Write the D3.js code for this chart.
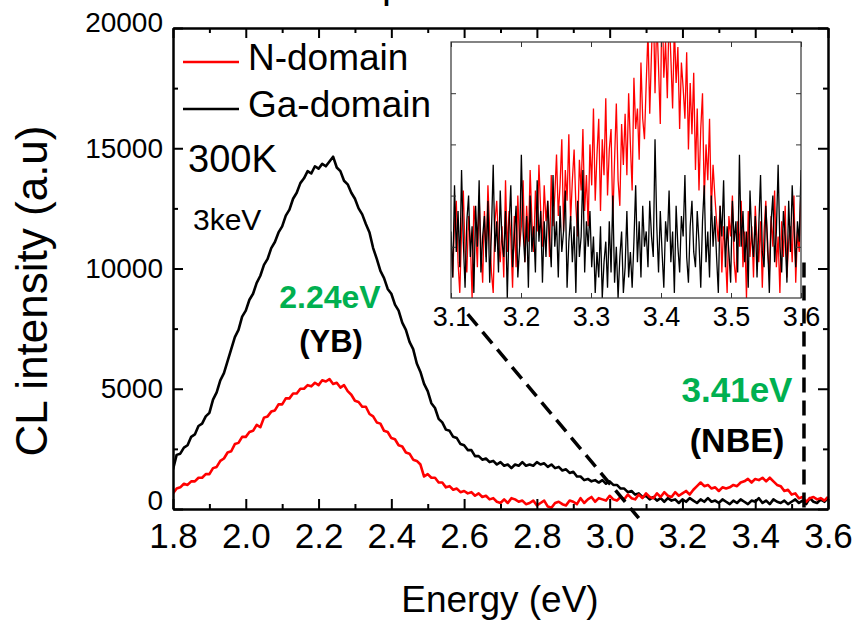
<!DOCTYPE html>
<html>
<head>
<meta charset="utf-8">
<script src="https://cdn.jsdelivr.net/npm/d3@7"></script>
<style>
  body { margin: 0; background: #fff; }
  text { font-family: "Liberation Sans", Arial, sans-serif; }
  .axis path, .axis line { stroke: #000; stroke-width: 2; }
  .inset-axis path { display: none; }
  .inset-axis line { stroke: #333; stroke-width: 1; }
</style>
</head>
<body>
<div id="chart"></div>
<script>
// main spectra, 1.80 .. 3.60 eV every 0.01 eV
var energyStart = 1.8
var energyStep = 0.01

var gaDomain = [
  1650, 2250, 2300, 2550, 2650, 3000, 3100, 3450, 3550, 3850,
  4000, 4550, 4850, 5350, 5650, 6150, 6650, 7150, 7450, 8000,
  8250, 8700, 8950, 9400, 9700, 10150, 10400, 10850, 11100, 11500,
  11750, 12200, 12450, 12900, 13150, 13550, 13750, 14050, 13950, 14250,
  14150, 14350, 14250, 14450, 14650, 14200, 14050, 13650, 13500, 13150,
  12900, 12500, 12250, 11850, 11500, 10850, 10400, 9900, 9600, 9150,
  8950, 8500, 8250, 7750, 7450, 6950, 6650, 6050, 5700, 5200,
  4900, 4400, 4200, 3750, 3600, 3300, 3250, 3000, 2950, 2700,
  2650, 2450, 2450, 2200, 2200, 2050, 2100, 1950, 2000, 1850,
  1950, 1800, 1850, 1700, 1850, 1800, 1950, 1800, 1850, 1800,
  1950, 1850, 1900, 1750, 1850, 1700, 1750, 1600, 1650, 1500,
  1550, 1350, 1350, 1200, 1250, 1150, 1200, 1100, 1200, 1050,
  1150, 1000, 1000, 850, 850, 700, 750, 600, 650, 500,
  550, 400, 500, 350, 450, 300, 450, 350, 400, 250,
  400, 300, 450, 350, 250, 400, 300, 450, 300, 350,
  250, 400, 300, 200, 350, 250, 400, 300, 200, 350,
  300, 450, 250, 350, 200, 400, 300, 250, 350, 200,
  300, 400, 250, 350, 200, 450, 300, 250, 400, 300,
  450
]

var nDomain = [
  650, 850, 900, 1050, 1000, 1150, 1150, 1300, 1300, 1450,
  1450, 1700, 1750, 2000, 2100, 2350, 2400, 2700, 2750, 3000,
  3000, 3200, 3250, 3500, 3400, 3800, 3850, 4050, 4100, 4350,
  4350, 4600, 4600, 4800, 4800, 5000, 5000, 5150, 5100, 5250,
  5150, 5350, 5300, 5400, 5200, 5250, 5050, 5150, 4900, 4750,
  4500, 4450, 4250, 4250, 3950, 3850, 3600, 3550, 3250, 3200,
  2950, 2900, 2650, 2600, 2350, 2300, 2050, 2000, 1850, 1350,
  1450, 1300, 1300, 1100, 1100, 900, 950, 800, 850, 700,
  750, 650, 700, 550, 650, 500, 550, 400, 450, 300,
  250, 400, 250, 450, 400, 300, 350, 200, 250, 350,
  150, 250, 350, 100, 50, 250, 300, 200, 150, 350,
  300, 200, 450, 250, 400, 500, 300, 450, 400, 350,
  550, 400, 350, 500, 400, 600, 450, 400, 600, 450,
  650, 500, 450, 650, 500, 700, 550, 500, 700, 550,
  650, 750, 600, 800, 950, 1100, 950, 1000, 850, 900,
  750, 900, 850, 900, 1000, 950, 1100, 1150, 1250, 1100,
  1250, 1200, 1300, 1150, 1300, 1150, 1000, 950, 750, 800,
  600, 650, 450, 500, 300, 450, 500, 400, 450, 350,
  500
]

// inset spectra (arb. units), evenly spread over 3.1 .. 3.6 eV
var insetRange = [3.1, 3.6]
var insetN = [
  24, 8, 30, 38, 14, 2, 26, 42, 18, 10, 32, 22, 0, 36, 28, 12, 40, 20, 6, 34,
  16, 44, 26, 10, 2, 30, 38, 22, 14, 28, 8, 46, 18, 34, 24, 4, 32, 12, 40, 20,
  28, 46, 14, 36, 22, 50, 30, 18, 42, 26, 52, 34, 20, 44, 30, 38, 16, 48, 28, 40,
  56, 32, 44, 62, 26, 50, 38, 64, 30, 46, 58, 36, 24, 54, 42, 66, 34, 48, 28, 60,
  44, 74, 38, 56, 70, 34, 62, 48, 78, 40, 58, 66, 30, 54, 76, 46, 36, 68, 52, 72,
  48, 80, 60, 42, 86, 66, 74, 54, 92, 70, 62, 84,
  104, 72, 96, 118, 80, 110, 90, 68, 120, 86, 100, 78, 112, 94, 74, 106, 84, 98, 66, 92,
  82, 70, 96, 58, 84, 64, 88, 50, 74, 42, 66, 80, 38, 60, 46, 70, 34, 52, 40, 30,
  22, 36, 10, 28, 18, 2, 32, 24, 40, 14, 6, 30, 20, 38, 12, 26, 0, 34, 16, 28,
  8, 36, 22, 14, 30, 4, 26, 38, 18, 10, 32, 20, 42, 12, 24, 2, 30, 16, 36, 8,
  22, 28, 14, 40, 6, 26, 18, 44
]
var insetGa = [
  26, 8, 44, 18, 34, 12, 50, 22, 4, 30, 40, 16, 28, 2, 36, 20, 46, 10, 24, 32,
  14, 38, 6, 26, 52, 18, 30, 10, 42, 22, 16, 34, 0, 28, 44, 12, 24, 36, 8, 20,
  56, 26, 14, 32, 4, 40, 18, 28, 10, 46, 22, 34, 6, 30, 16, 38, 24, 12, 48, 20,
  30, 8, 36, 18, 26, 42, 4, 22, 32, 14, 28, 2, 38, 16, 24, 50, 10, 30, 20, 34,
  12, 24, 2, 18, 8, 28, 0, 14, 22, 4, 30, 10, 40, 6, 20, 0, 16, 26, 2, 12, 34, 8, 18, 4,
  22, 44, 14, 30, 8, 36, 20, 26, 12, 38, 24, 16, 62, 28, 10, 34, 18, 4, 30, 22,
  42, 14, 26, 2, 36, 20, 10, 32, 24, 48, 16, 6, 28, 38, 18, 12, 34, 22, 4, 30,
  44, 14, 26, 8, 40, 20, 32, 16, 2, 36, 24, 46, 12, 28, 18, 6, 38, 22, 30, 10,
  56, 20, 34, 14, 26, 4, 42, 24, 16, 32, 8, 28, 48, 18, 12, 36, 22, 2, 30, 40,
  14, 26, 52, 20, 10, 34, 24, 6, 38, 18, 44, 28, 12, 30, 22, 50
]

var xTicks = [1.8, 2.0, 2.2, 2.4, 2.6, 2.8, 3.0, 3.2, 3.4, 3.6]
var xMinor = [1.9, 2.1, 2.3, 2.5, 2.7, 2.9, 3.1, 3.3, 3.5]
var yTicks = [0, 5000, 10000, 15000, 20000]
var yMinor = [2500, 7500, 12500, 17500]
var insetXTicks = [3.1, 3.2, 3.3, 3.4, 3.5, 3.6]
var insetYTicks = [20, 40, 60, 80]

// dashed guide lines, in data units of the main plot
var guides = [
  {x1: 2.61, y1: 8100, x2: 3.08, y2: -380},
  {x1: 3.534, y1: 10250, x2: 3.534, y2: 0}
]

var outerW = 857
var outerH = 620
var margin = {top: 28, right: 29, bottom: 111, left: 173}
var width = outerW - margin.left - margin.right
var height = outerH - margin.top - margin.bottom

var svg = d3.select("#chart").append("svg")
  .attr("width", outerW)
  .attr("height", outerH)

// cut-off title at the very top
svg.append("text")
  .attr("x", 382)
  .attr("y", -2)
  .attr("font-size", 40)
  .text("p")

var g = svg.append("g")
  .attr("transform", "translate(" + margin.left + "," + margin.top + ")")

var x = d3.scaleLinear().domain([1.8, 3.6]).range([0, width])
var y = d3.scaleLinear().domain([0, 20000]).range([height, 0])

function mainPoints(values) {
  return values.map(function(v, i) { return [energyStart + i * energyStep, v] })
}

g.append("clipPath").attr("id", "plotclip")
  .append("rect").attr("width", width).attr("height", height)

var line = d3.line()
  .x(function(d) { return x(d[0]) })
  .y(function(d) { return y(d[1]) })

g.append("path")
  .datum(mainPoints(gaDomain))
  .attr("clip-path", "url(#plotclip)")
  .attr("fill", "none")
  .attr("stroke", "#000")
  .attr("stroke-width", 2.6)
  .attr("stroke-linejoin", "round")
  .attr("d", line)

g.append("path")
  .datum(mainPoints(nDomain))
  .attr("clip-path", "url(#plotclip)")
  .attr("fill", "none")
  .attr("stroke", "#ff0000")
  .attr("stroke-width", 2.6)
  .attr("stroke-linejoin", "round")
  .attr("d", line)

// axes, ticks inward on all four sides
var fmtX = d3.format(".1f")

g.append("g").attr("class", "axis")
  .attr("transform", "translate(0," + height + ")")
  .call(d3.axisBottom(x).tickValues(xTicks).tickSize(-10).tickSizeOuter(0).tickPadding(14).tickFormat(fmtX))
  .selectAll("text").attr("font-size", 35).attr("font-family", "Liberation Sans, Arial, sans-serif")

g.append("g").attr("class", "axis")
  .attr("transform", "translate(0," + height + ")")
  .call(d3.axisBottom(x).tickValues(xMinor).tickSize(-5).tickSizeOuter(0).tickFormat(""))

g.append("g").attr("class", "axis")
  .call(d3.axisTop(x).tickValues(xTicks).tickSize(-10).tickSizeOuter(0).tickFormat(""))
g.append("g").attr("class", "axis")
  .call(d3.axisTop(x).tickValues(xMinor).tickSize(-5).tickSizeOuter(0).tickFormat(""))

g.append("g").attr("class", "axis")
  .call(d3.axisLeft(y).tickValues(yTicks).tickSize(-10).tickSizeOuter(0).tickPadding(10).tickFormat(d3.format("d")))
  .selectAll("text")
  .attr("font-size", 28)
  .attr("font-family", "Liberation Sans, Arial, sans-serif")
  .attr("y", function(d) { return d == 0 ? -8 : (d == 20000 ? -5 : 0) })
g.append("g").attr("class", "axis")
  .call(d3.axisLeft(y).tickValues(yMinor).tickSize(-5).tickSizeOuter(0).tickFormat(""))

g.append("g").attr("class", "axis")
  .attr("transform", "translate(" + width + ",0)")
  .call(d3.axisRight(y).tickValues(yTicks).tickSize(-10).tickSizeOuter(0).tickFormat(""))
g.append("g").attr("class", "axis")
  .attr("transform", "translate(" + width + ",0)")
  .call(d3.axisRight(y).tickValues(yMinor).tickSize(-5).tickSizeOuter(0).tickFormat(""))

// axis titles
svg.append("text")
  .attr("x", 500)
  .attr("y", 612)
  .attr("text-anchor", "middle")
  .attr("font-size", 37)
  .text("Energy (eV)")

svg.append("text")
  .attr("transform", "translate(47,291) rotate(-90)")
  .attr("text-anchor", "middle")
  .attr("font-size", 44)
  .text("CL intensity (a.u)")

// legend
var legend = [
  {name: "N-domain", color: "#ff0000"},
  {name: "Ga-domain", color: "#000"}
]
var leg = svg.selectAll(".leg")
  .data(legend)
  .enter().append("g")
  .attr("class", "leg")
  .attr("transform", function(d, i) { return "translate(183," + (62 + i * 47) + ")" })
leg.append("line")
  .attr("x1", 0).attr("x2", 56)
  .attr("stroke", function(d) { return d.color })
  .attr("stroke-width", 2.6)
leg.append("text")
  .attr("x", 65)
  .attr("y", 8)
  .attr("font-size", 37)
  .text(function(d) { return d.name })

// conditions
svg.append("text").attr("x", 188).attr("y", 172).attr("font-size", 38).text("300K")
svg.append("text").attr("x", 193).attr("y", 230).attr("font-size", 30).text("3keV")

// peak labels
var boldFont = "'Open Sans', 'DejaVu Sans', sans-serif"
svg.append("text").attr("x", 330).attr("y", 308).attr("text-anchor", "middle")
  .attr("font-family", boldFont).attr("font-weight", "bold").attr("font-size", 32)
  .attr("fill", "#00b050").text("2.24eV")
svg.append("text").attr("x", 331).attr("y", 352).attr("text-anchor", "middle")
  .attr("font-family", boldFont).attr("font-weight", "bold").attr("font-size", 31)
  .text("(YB)")
svg.append("text").attr("x", 737).attr("y", 402).attr("text-anchor", "middle")
  .attr("font-family", boldFont).attr("font-weight", "bold").attr("font-size", 35)
  .attr("fill", "#00b050").text("3.41eV")
svg.append("text").attr("x", 737).attr("y", 452).attr("text-anchor", "middle")
  .attr("font-family", boldFont).attr("font-weight", "bold").attr("font-size", 34)
  .text("(NBE)")

// inset
var insetBox = {x: 451, y: 42, w: 350, h: 256}
var inset = svg.append("g")
  .attr("transform", "translate(" + insetBox.x + "," + insetBox.y + ")")

var ix = d3.scaleLinear().domain(insetRange).range([0, insetBox.w])
var iy = d3.scaleLinear().domain([0, 100]).range([insetBox.h, 0])

inset.append("rect")
  .attr("width", insetBox.w).attr("height", insetBox.h)
  .attr("fill", "#fff")

inset.append("clipPath").attr("id", "insetclip")
  .append("rect").attr("width", insetBox.w).attr("height", insetBox.h)

function insetPoints(values) {
  var n = values.length
  return values.map(function(v, i) {
    return [insetRange[0] + (insetRange[1] - insetRange[0]) * i / (n - 1), v]
  })
}

var iline = d3.line()
  .x(function(d) { return ix(d[0]) })
  .y(function(d) { return iy(d[1]) })

inset.append("path")
  .datum(insetPoints(insetN))
  .attr("clip-path", "url(#insetclip)")
  .attr("fill", "none").attr("stroke", "#ff0000").attr("stroke-width", 1.3)
  .attr("d", iline)

inset.append("path")
  .datum(insetPoints(insetGa))
  .attr("clip-path", "url(#insetclip)")
  .attr("fill", "none").attr("stroke", "#000").attr("stroke-width", 1.3)
  .attr("d", iline)

inset.append("g").attr("class", "inset-axis")
  .attr("transform", "translate(0," + insetBox.h + ")")
  .call(d3.axisBottom(ix).tickValues(insetXTicks).tickSize(-5).tickPadding(9).tickFormat(fmtX))
  .selectAll("text").attr("font-size", 27).attr("font-family", "Liberation Sans, Arial, sans-serif")
inset.append("g").attr("class", "inset-axis")
  .call(d3.axisTop(ix).tickValues(insetXTicks).tickSize(-5).tickFormat(""))
inset.append("g").attr("class", "inset-axis")
  .call(d3.axisLeft(iy).tickValues(insetYTicks).tickSize(-5).tickFormat(""))
inset.append("g").attr("class", "inset-axis")
  .attr("transform", "translate(" + insetBox.w + ",0)")
  .call(d3.axisRight(iy).tickValues(insetYTicks).tickSize(-5).tickFormat(""))

inset.append("rect")
  .attr("width", insetBox.w).attr("height", insetBox.h)
  .attr("fill", "none").attr("stroke", "#333").attr("stroke-width", 1.2)

// dashed guides from the main plot up to the inset
g.selectAll(".guide")
  .data(guides)
  .enter().append("line")
  .attr("class", "guide")
  .attr("x1", function(d) { return x(d.x1) })
  .attr("y1", function(d) { return y(d.y1) })
  .attr("x2", function(d) { return x(d.x2) })
  .attr("y2", function(d) { return y(d.y2) })
  .attr("stroke", "#000")
  .attr("stroke-width", 3.5)
  .attr("stroke-dasharray", "15,8")
</script>
</body>
</html>
